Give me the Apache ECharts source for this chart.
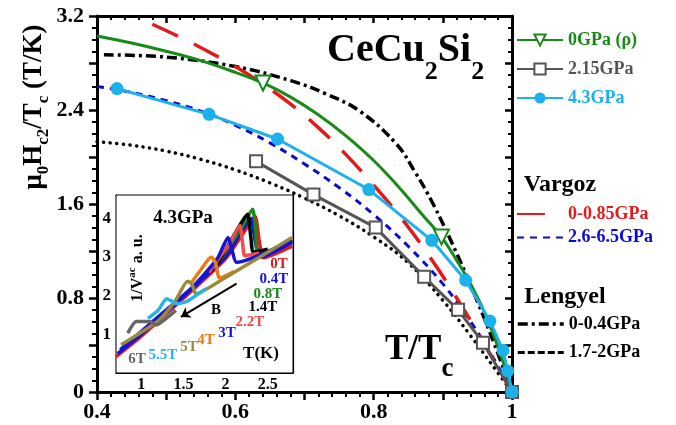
<!DOCTYPE html>
<html><head><meta charset="utf-8">
<script src="https://cdn.jsdelivr.net/npm/echarts@6/dist/echarts.min.js"></script>
<style>html,body{margin:0;padding:0;background:#fff}#c{width:676px;height:425px}</style>
</head><body><div id="c"></div>
<script>
const SERIF = '"Liberation Serif", "DejaVu Serif", serif';

// ---- main chart tick labels ----
const xTickLabels = ['0.4', '0.6', '0.8', '1'];
const yTickLabels = ['0', '0.8', '1.6', '2.4', '3.2'];

// ---- main chart series (T/Tc, mu0Hc2/Tc) ----
const p0_T = [0.40, 0.45, 0.50, 0.55, 0.60, 0.64, 0.68, 0.72, 0.76, 0.80, 0.84, 0.87, 0.898, 0.92, 0.94, 0.96, 0.98, 1.00];
const p0_H = [3.03, 2.97, 2.90, 2.82, 2.72, 2.63, 2.51, 2.36, 2.18, 1.97, 1.72, 1.51, 1.32, 1.12, 0.92, 0.68, 0.38, 0.00];
const p0_marked = [0.64, 0.898];

const p215_T = [0.630, 0.713, 0.803, 0.873, 0.922, 0.958, 1.000];
const p215_H = [1.963, 1.680, 1.399, 0.980, 0.699, 0.420, 0.000];

const p43_T = [0.429, 0.562, 0.661, 0.793, 0.884, 0.933, 0.968, 0.987, 0.994, 1.000];
const p43_H = [2.582, 2.363, 2.153, 1.723, 1.291, 0.951, 0.604, 0.355, 0.179, 0.000];

const vLow_T = [0.48, 0.52, 0.56, 0.60, 0.64, 0.68, 0.72, 0.76, 0.80, 0.84, 0.88, 0.92, 0.96, 1.00];
const vLow_H = [3.13, 3.02, 2.90, 2.77, 2.62, 2.45, 2.25, 2.02, 1.76, 1.48, 1.16, 0.80, 0.41, 0.00];

const vHigh_T = [0.40, 0.45, 0.50, 0.55, 0.60, 0.65, 0.70, 0.75, 0.80, 0.85, 0.90, 0.94, 0.97, 1.00];
const vHigh_H = [2.60, 2.55, 2.48, 2.39, 2.27, 2.12, 1.94, 1.74, 1.51, 1.24, 0.92, 0.60, 0.32, 0.00];

const lLow_T = [0.41, 0.50, 0.60, 0.68, 0.73, 0.78, 0.833, 0.86, 0.886, 0.92, 0.95, 0.975, 1.00];
const lLow_H = [2.87, 2.85, 2.77, 2.65, 2.54, 2.39, 2.11, 1.87, 1.60, 1.18, 0.77, 0.40, 0.00];

const lHigh_T = [0.40, 0.45, 0.50, 0.55, 0.60, 0.65, 0.70, 0.75, 0.80, 0.85, 0.90, 0.94, 0.97, 1.00];
const lHigh_H = [2.13, 2.10, 2.05, 1.98, 1.89, 1.78, 1.65, 1.50, 1.32, 1.10, 0.78, 0.48, 0.24, 0.00];

// ---- inset: 1/V^ac vs T(K) at 4.3 GPa ----
const insetXLabels = [1, 1.5, 2, 2.5];
const insetYLabels = [1, 2, 3, 4];
const fields = ['0T', '0.4T', '0.8T', '1.4T', '2.2T', '3T', '4T', '5T', '5.5T', '6T'];
const fieldColors = ['#e41a1a', '#1414d8', '#178a17', '#000000', '#f04a4a', '#1414d8', '#f07a10', '#9a8a3c', '#27b3ec', '#666666'];
const in0T_x   = [0.70, 1.00, 1.50, 2.00, 2.25, 2.35, 2.40, 2.45, 2.79];
const in0T_y   = [0.42, 0.95, 1.93, 2.95, 3.75, 4.05, 3.40, 2.98, 3.28];
const in04T_x  = [0.72, 1.00, 1.50, 2.00, 2.20, 2.30, 2.36, 2.42, 2.79];
const in04T_y  = [0.50, 1.00, 1.98, 3.00, 3.70, 4.00, 3.30, 3.00, 3.38];
const in08T_x  = [1.90, 2.20, 2.32, 2.36, 2.38, 2.55];
const in08T_y  = [2.80, 3.80, 4.23, 3.60, 3.12, 3.17];
const in14T_x  = [1.90, 2.15, 2.26, 2.30, 2.33, 2.50];
const in14T_y  = [2.80, 3.75, 4.10, 3.50, 3.12, 3.20];
const in22T_x  = [1.80, 2.05, 2.17, 2.20, 2.23, 2.40];
const in22T_y  = [2.60, 3.35, 3.81, 3.40, 3.03, 3.10];
const in3T_x   = [0.75, 1.20, 1.60, 1.90, 2.03, 2.08, 2.13, 2.79];
const in3T_y   = [0.60, 1.45, 2.20, 2.95, 3.50, 3.15, 2.86, 3.42];
const in4T_x   = [1.60, 1.70, 1.83, 1.88, 1.93, 2.10];
const in4T_y   = [2.35, 2.65, 3.00, 2.85, 2.45, 2.62];
const in5T_x   = [0.76, 1.20, 1.40, 1.55, 1.60, 1.65, 2.00, 2.79];
const in5T_y   = [0.73, 1.35, 1.85, 2.37, 2.30, 2.05, 2.47, 3.50];
const in55T_x  = [1.08, 1.20, 1.30, 1.36, 1.41, 1.53, 1.77];
const in55T_y  = [1.41, 1.62, 1.92, 1.86, 1.79, 1.84, 2.18];
const in6T_x   = [0.84, 0.94, 1.10, 1.18, 1.30, 1.41];
const in6T_y   = [1.03, 1.33, 1.33, 1.24, 1.42, 1.62];
const insetX = [in0T_x, in04T_x, in08T_x, in14T_x, in22T_x, in3T_x, in4T_x, in5T_x, in55T_x, in6T_x];
const insetY = [in0T_y, in04T_y, in08T_y, in14T_y, in22T_y, in3T_y, in4T_y, in5T_y, in55T_y, in6T_y];
const arrowB = [[2.13, 2.31], [1.47, 1.45]];

const zip = (a, b) => a.map((v, i) => [v, b[i]]);

const insetXTicks = []; for (let v = 8; v <= 27; v++) insetXTicks.push(v / 10);
const insetYTicks = []; for (let v = 1; v <= 22; v++) insetYTicks.push(v / 5);

const C = { green: '#178a17', gray: '#555555', cyan: '#1cb0ec', red: '#e41a1a', blue: '#0a0ad0', black: '#000' };

const lbl = v => String(Math.round(v * 10) / 10);
const axisBase = {
  type: 'value', splitLine: { show: false },
  axisLine: { show: true, onZero: false, lineStyle: { color: '#000', width: 3 } },
};

const mainX = Object.assign({}, axisBase, {
  gridIndex: 0, min: 0.4, max: 1.0, interval: 0.1, position: 'bottom',
  axisTick: { length: 8, lineStyle: { width: 2.5, color: '#000' } },
  minorTick: { show: true, splitNumber: 5, length: 5, lineStyle: { width: 2, color: '#000' } },
  axisLabel: { margin: 9, fontSize: 22, fontWeight: 'bold', fontFamily: SERIF, color: '#000',
    formatter: v => xTickLabels.includes(lbl(v)) ? lbl(v) : '' }
});
const mainXTop = Object.assign({}, axisBase, {
  gridIndex: 0, min: 0.4, max: 1.0, interval: 0.1, position: 'top',
  axisTick: { inside: true, length: 7, lineStyle: { width: 2.5, color: '#000' } },
  minorTick: { show: true, splitNumber: 5, length: 4, lineStyle: { width: 2, color: '#000' } },
  axisLabel: { show: false }
});
const mainY = Object.assign({}, axisBase, {
  gridIndex: 0, min: 0, max: 3.2, interval: 0.4, position: 'left',
  axisTick: { length: 8, lineStyle: { width: 2.5, color: '#000' } },
  minorTick: { show: true, splitNumber: 4, length: 5, lineStyle: { width: 2, color: '#000' } },
  axisLabel: { margin: 13, fontSize: 22, fontWeight: 'bold', fontFamily: SERIF, color: '#000',
    formatter: v => yTickLabels.includes(lbl(v)) ? lbl(v) : '' }
});
const mainYRight = Object.assign({}, axisBase, {
  gridIndex: 0, min: 0, max: 3.2, interval: 0.4, position: 'right',
  axisTick: { inside: true, length: 7, lineStyle: { width: 2.5, color: '#000' } },
  minorTick: { show: true, splitNumber: 4, length: 4, lineStyle: { width: 2, color: '#000' } },
  axisLabel: { show: false }
});

const insetAxis = (pos, min, max, labels, ticks, showLabel) => ({
  type: 'value', gridIndex: 1, min: min, max: max, position: pos, splitLine: { show: false },
  axisLine: { show: true, onZero: false, lineStyle: { color: '#000', width: 1.2 } },
  axisTick: { show: true, inside: true, length: 3.5, customValues: ticks, lineStyle: { color: '#000', width: 1 } },
  axisLabel: { show: showLabel, customValues: labels, margin: (pos === 'bottom' ? 4 : 5), fontSize: (pos === 'bottom' ? 16 : 17), fontWeight: 'bold', fontFamily: SERIF, color: '#000' }
});

const mainLine = (name, T, H, color, extra) => Object.assign({
  type: 'line', name: name, xAxisIndex: 0, yAxisIndex: 0, data: zip(T, H),
  symbol: 'none', smooth: 0.4, z: 3,
  lineStyle: { color: color, width: 3 }, itemStyle: { color: color }, emphasis: { disabled: true }
}, extra || {});

const greenData = zip(p0_T, p0_H).map(p => ({ value: p, symbol: p0_marked.includes(p[0]) ? 'triangle' : 'none' }));

const series = [
  mainLine('1.7-2GPa', lHigh_T, lHigh_H, C.black, { lineStyle: { color: C.black, width: 3.5, type: [0.1, 6.5], cap: 'round' } }),
  mainLine('0-0.4GPa', lLow_T, lLow_H, C.black, { lineStyle: { color: C.black, width: 3.5, type: [10, 4, 3, 4] } }),
  mainLine('2.6-6.5GPa', vHigh_T, vHigh_H, C.blue, { lineStyle: { color: C.blue, width: 3, type: [7, 6] } }),
  mainLine('0-0.85GPa', vLow_T, vLow_H, C.red, { lineStyle: { color: C.red, width: 3.5, type: [28, 18] } }),
  {
    type: 'line', name: '0GPa (ρ)', xAxisIndex: 0, yAxisIndex: 0, data: greenData,
    smooth: 0.4, symbol: 'triangle', symbolRotate: 180, symbolSize: 15, z: 4,
    lineStyle: { color: C.green, width: 3 }, itemStyle: { color: '#fff', borderColor: C.green, borderWidth: 2 },
    emphasis: { disabled: true }
  },
  {
    type: 'line', name: '2.15GPa', xAxisIndex: 0, yAxisIndex: 0, data: zip(p215_T, p215_H),
    symbol: 'rect', symbolSize: 12, z: 5,
    lineStyle: { color: C.gray, width: 3 }, itemStyle: { color: '#fff', borderColor: C.gray, borderWidth: 2 },
    emphasis: { disabled: true }
  },
  {
    type: 'line', name: '4.3GPa', xAxisIndex: 0, yAxisIndex: 0, data: zip(p43_T, p43_H),
    symbol: 'circle', symbolSize: 13, z: 6,
    lineStyle: { color: C.cyan, width: 3 }, itemStyle: { color: C.cyan },
    emphasis: { disabled: true }
  }
];

fields.forEach((f, i) => {
  series.push({
    type: 'line', name: 'inset ' + f, xAxisIndex: 2, yAxisIndex: 2, data: zip(insetX[i], insetY[i]),
    symbol: 'none', smooth: 0.2, z: 10 + i,
    lineStyle: { color: fieldColors[i], width: 3.5 }, emphasis: { disabled: true }
  });
});
series.push({
  type: 'lines', coordinateSystem: 'cartesian2d', xAxisIndex: 2, yAxisIndex: 2, z: 30,
  data: [{ coords: arrowB }], symbol: ['none', 'arrow'], symbolSize: 9,
  lineStyle: { color: '#000', width: 2, opacity: 1, curveness: 0 }, silent: true
});

const legendText = { fontFamily: SERIF, fontWeight: 'bold', fontSize: 18, lineHeight: 20 };
const legendBase = { orient: 'vertical', left: 516, padding: 0, itemWidth: 46, itemHeight: 14, selectedMode: false, textStyle: legendText };
const noSym = { color: 'rgba(0,0,0,0)', borderWidth: 0, opacity: 0 };

const txt = (x, y, text, size, color, extra) => ({
  type: 'text', x: x, y: y, z: 50,
  style: Object.assign({ text: text, fontSize: size, fontWeight: 'bold', fontFamily: SERIF, fill: color, align: 'center', verticalAlign: 'middle' }, extra || {})
});
const rich = (m, s, pad) => ({
  m: { fontSize: m, fontWeight: 'bold', fontFamily: SERIF, fill: '#000' },
  s: { fontSize: s, fontWeight: 'bold', fontFamily: SERIF, fill: '#000', padding: [pad, 0, 0, 0] }
});

const fieldLabelPos = [[279, 264], [274, 279], [268, 294], [263, 307], [250, 322], [227, 333], [206, 340], [189, 347], [163, 355], [137, 359]];
const graphics = [
  { type: 'text', x: 327, y: 51, z: 50, style: { text: '{m|CeCu}{s|2}{m|Si}{s|2}', rich: rich(40, 26, 42), align: 'left', verticalAlign: 'middle' } },
  { type: 'text', x: 385, y: 350, z: 50, style: { text: '{m|T/T}{s|c}', rich: rich(35, 27, 38), align: 'left', verticalAlign: 'middle' } },
  { type: 'text', x: 34, y: 107, rotation: Math.PI / 2, z: 50, style: { text: '{m|μ}{s|0}{m|H}{s|c2}{m|/T}{s|c}{m| (T/K)}', rich: rich(27, 17, 19), align: 'center', verticalAlign: 'middle' } },
  txt(560, 185, 'Vargoz', 24, '#000'),
  txt(565, 297, 'Lengyel', 24, '#000'),
  txt(183, 218, '4.3GPa', 19, '#000'),
  txt(261, 354, 'T(K)', 17, '#000'),
  txt(216, 310, 'B', 15, '#000'),
  { type: 'text', x: 138, y: 268, rotation: Math.PI / 2, z: 50, style: { text: '{m|1/V}{p|ac}{m| a. u.}', align: 'center', verticalAlign: 'middle',
    rich: { m: { fontSize: 16, fontWeight: 'bold', fontFamily: SERIF, fill: '#000' }, p: { fontSize: 11, fontWeight: 'bold', fontFamily: SERIF, fill: '#000', padding: [0, 0, 12, 0] } } } }
];
fields.forEach((f, i) => graphics.push(txt(fieldLabelPos[i][0], fieldLabelPos[i][1], f, 15, fieldColors[i])));

const option = {
  animation: false,
  backgroundColor: '#fff',
  grid: [
    { left: 97, top: 16, width: 415, height: 376, containLabel: false },
    { left: 116, top: 195, width: 177, height: 178, show: true, backgroundColor: '#fff', borderColor: '#000', borderWidth: 1, z: 8 }
  ],
  xAxis: [mainX, mainXTop,
    insetAxis('bottom', 0.7, 2.8, insetXLabels, insetXTicks, true),
    insetAxis('top', 0.7, 2.8, insetXLabels, insetXTicks, false)],
  yAxis: [mainY, mainYRight,
    insetAxis('left', 0, 4.6, insetYLabels, insetYTicks, true),
    insetAxis('right', 0, 4.6, insetYLabels, insetYTicks, false)],
  legend: [
    Object.assign({}, legendBase, { top: 30, itemGap: 9, data: [
      { name: '0GPa (ρ)', textStyle: { color: C.green } },
      { name: '2.15GPa', textStyle: { color: C.gray } },
      { name: '4.3GPa', textStyle: { color: C.cyan } }] }),
    Object.assign({}, legendBase, { top: 204, itemGap: 3.5, data: [
      { name: '0-0.85GPa', textStyle: { color: C.red }, itemStyle: noSym },
      { name: '2.6-6.5GPa', textStyle: { color: C.blue }, itemStyle: noSym }] }),
    Object.assign({}, legendBase, { top: 314, itemGap: 8.5, data: [
      { name: '0-0.4GPa', textStyle: { color: '#000' }, itemStyle: noSym, lineStyle: { width: 3.5, type: [10, 4, 3, 4] } },
      { name: '1.7-2GPa', textStyle: { color: '#000' }, itemStyle: noSym, lineStyle: { type: [7, 3], cap: 'butt', width: 3 } }] })
  ],
  graphic: graphics,
  series: series
};

const chart = echarts.init(document.getElementById('c'), null, { renderer: 'canvas' });
chart.setOption(option);
</script>
</body></html>
